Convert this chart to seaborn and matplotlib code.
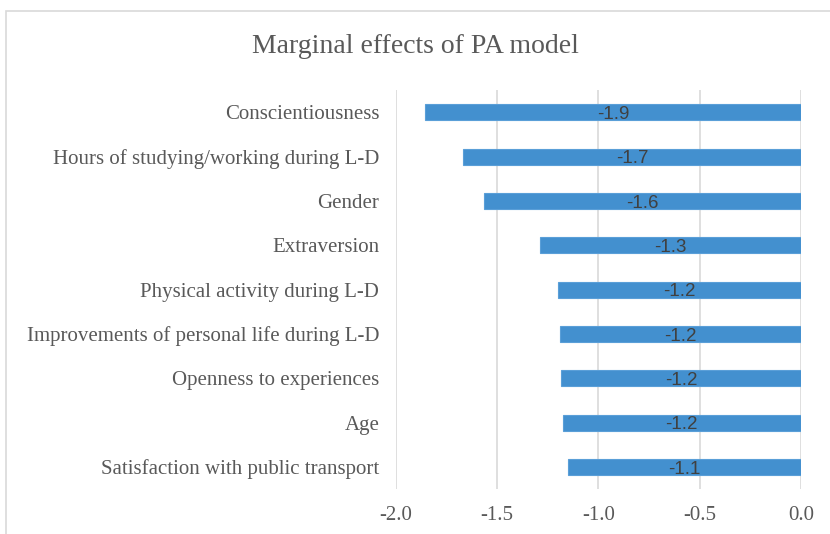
import matplotlib
matplotlib.use("Agg")
import matplotlib.pyplot as plt
from matplotlib.patches import Rectangle
import seaborn as sns
import pandas as pd

# Data
factors = [
    "Conscientiousness",
    "Hours of studying/working during L-D",
    "Gender",
    "Extraversion",
    "Physical activity during L-D",
    "Improvements of personal life during L-D",
    "Openness to experiences",
    "Age",
    "Satisfaction with public transport",
]
effects = [-1.856, -1.667, -1.563, -1.287, -1.198, -1.188, -1.183, -1.176, -1.149]
x_ticks = [-2.0, -1.5, -1.0, -0.5, 0.0]

df = pd.DataFrame({"factor": factors, "effect": effects})

sns.set_style("white")
serif = ["Liberation Serif", "DejaVu Serif"]

fig = plt.figure(figsize=(8.3, 5.34), dpi=100)
ax = fig.add_axes([0.477, 0.084, 0.488, 0.747])

sns.barplot(data=df, x="effect", y="factor", orient="h", color="#4390cf",
            width=0.36, saturation=1, edgecolor="#5a9fd8", linewidth=0.8, ax=ax)

ax.set_xlim(-2.0, 0.0)
ax.set_xticks(x_ticks)
ax.set_xticklabels(["{:.1f}".format(t) for t in x_ticks], fontfamily=serif,
                   fontsize=15, color="#595959")
ax.set_yticks(range(len(factors)))
ax.set_yticklabels(factors, fontfamily=serif, fontsize=15, color="#595959")
ax.tick_params(axis="y", length=0, pad=12)
ax.tick_params(axis="x", length=0, pad=12)
ax.set_xlabel("")
ax.set_ylabel("")

ax.grid(axis="x", color="#d9d9d9", linewidth=1.2)
ax.set_axisbelow(True)
for side in ax.spines.values():
    side.set_visible(False)

# Value labels centred on each bar
for i, v in enumerate(effects):
    ax.text(v / 2, i + 0.05, "{:.1f}".format(v), ha="center", va="center",
            fontsize=13.5, color="#404040", fontfamily=["Liberation Sans", "DejaVu Sans"])

fig.text(0.5, 0.912, "Marginal effects of PA model", ha="center", va="center",
         fontsize=20, color="#595959", fontfamily=serif)

# Chart-area border
fig.patches.append(Rectangle((6 / 830, -0.05), 1.0, 1 - 11 / 534 + 0.05,
                             transform=fig.transFigure, fill=False,
                             edgecolor="#d9d9d9", linewidth=1.2))

fig.savefig("out.png", dpi=100, facecolor="white")
